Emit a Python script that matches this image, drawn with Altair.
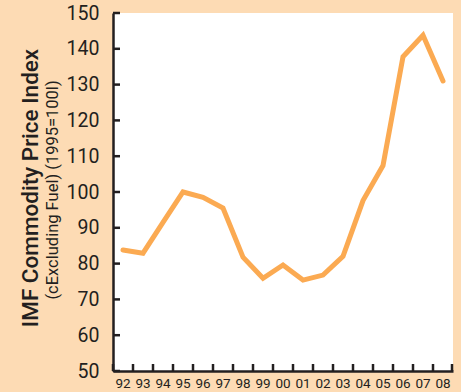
import altair as alt
import pandas as pd

years = ["92", "93", "94", "95", "96", "97", "98", "99", "00", "01", "02", "03", "04", "05", "06", "07", "08"]
values = [83.8, 82.9, 91.5, 100.0, 98.5, 95.5, 81.8, 75.9, 79.6, 75.4, 76.8, 82.0, 97.6, 107.4, 137.8, 143.8, 131.0]
y_ticks = [50, 60, 70, 80, 90, 100, 110, 120, 130, 140, 150]
title_main = "IMF Commodity Price Index"
title_sub = "(cExcluding Fuel) (1995=100l)"

DARK = "#231F20"
ORANGE = "#FBAA52"
FONT = "Roboto"
W, H = 340, 358

df = pd.DataFrame({"year": years, "value": values})
df_yt = pd.DataFrame({"v": y_ticks})
df_xt = pd.DataFrame({"year": years})

xscale = alt.Scale(type="band", paddingInner=0, paddingOuter=0, domain=years)
yscale = alt.Scale(domain=[50, 150], nice=False, zero=False)

xaxis = alt.Axis(title=None, labelAngle=0, ticks=False, grid=False, domainColor=DARK,
                 domainWidth=2.5, labelFont=FONT, labelFontSize=13.5, labelColor=DARK,
                 labelPadding=5, labelOverlap=False)
yaxis = alt.Axis(title=None, values=y_ticks, ticks=False, grid=False, domainColor=DARK,
                 domainWidth=2.5, labelFont=FONT, labelFontSize=19.5, labelColor=DARK,
                 labelPadding=14, labelOverlap=False)

line = alt.Chart(df).mark_line(color=ORANGE, strokeWidth=5, strokeCap="round").encode(
    x=alt.X("year:N", sort=years, scale=xscale, axis=xaxis),
    y=alt.Y("value:Q", scale=yscale, axis=yaxis),
)

yt = alt.Chart(df_yt).mark_rule(color=DARK, strokeWidth=2.5).encode(
    y=alt.Y("v:Q", scale=yscale, axis=yaxis),
    x=alt.value(0),
    x2=alt.value(7),
)

xt = alt.Chart(df_xt).mark_rule(color=DARK, strokeWidth=2.5).encode(
    x=alt.X("year:N", sort=years, scale=xscale, bandPosition=0, axis=xaxis),
    y=alt.value(H),
    y2=alt.value(H - 7),
)

xt_end = alt.Chart(pd.DataFrame({"a": [1]})).mark_rule(color=DARK, strokeWidth=2.5).encode(
    x=alt.value(W - 1),
    y=alt.value(H),
    y2=alt.value(H - 7),
)

t1 = alt.Chart(pd.DataFrame({"t": [title_main]})).mark_text(
    angle=270, font=FONT, fontSize=22.5, fontWeight=500, color=DARK,
    align="center", baseline="middle"
).encode(x=alt.value(-82), y=alt.value(175), text="t:N")

t2 = alt.Chart(pd.DataFrame({"t": [title_sub]})).mark_text(
    angle=270, font=FONT, fontSize=16.5, color=DARK,
    align="center", baseline="middle"
).encode(x=alt.value(-60), y=alt.value(177), text="t:N")

chart = alt.layer(line, yt, xt, xt_end, t1, t2).properties(
    width=W, height=H,
    autosize=alt.AutoSizeParams(type="none"),
    padding={"left": 113, "top": 13, "right": 8, "bottom": 21},
    background="#FDDBB4",
).configure_view(fill="white", stroke=None).configure_axis(labelOverlap=False)

chart.save("out.html", embed_options={"renderer": "svg", "actions": False})
